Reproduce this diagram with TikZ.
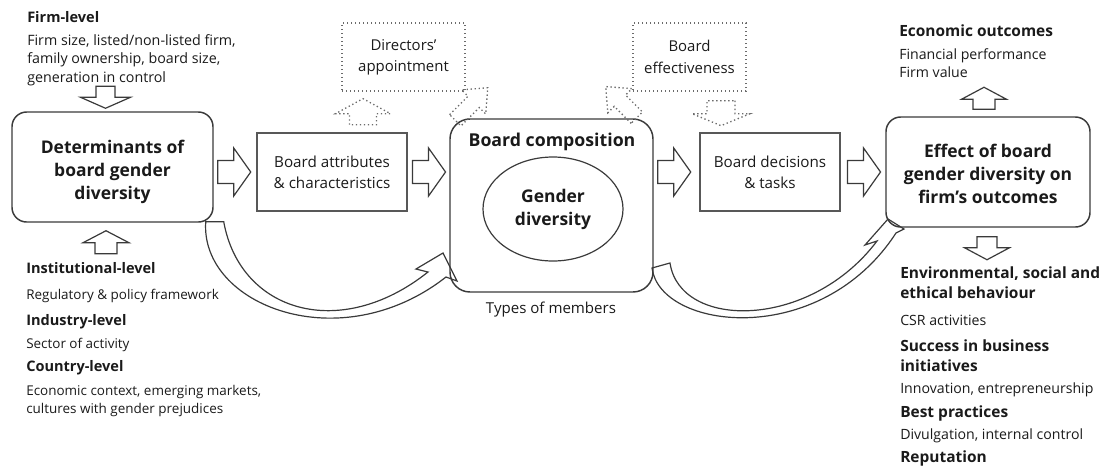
\documentclass[tikz,border=0pt]{standalone}
\usepackage{fontspec}
\setmainfont{Open Sans}
\usetikzlibrary{calc,shapes.geometric}
\definecolor{txt}{HTML}{1A1A1A}
\definecolor{ln}{HTML}{3A3A3A}
\tikzset{
  every node/.style={inner sep=0pt, text=txt},
  body/.style={font=\fontsize{10.1}{12}\selectfont, anchor=base west},
  tbody/.style={font=\fontsize{10.7}{12}\selectfont, anchor=base west},
  hd/.style={font=\fontsize{10.9}{12}\selectfont\bfseries, anchor=base west},
  rbody/.style={font=\fontsize{10.6}{12}\selectfont, anchor=base west},
  rhd/.style={font=\fontsize{11.6}{12}\selectfont\bfseries, anchor=base west},
  rbox/.style={draw=ln, line width=1.1pt, rounded corners=11pt, align=center},
  sbox/.style={draw=ln!85, line width=0.8pt, align=center, font=\fontsize{11.4}{15.5}\selectfont},
  dbox/.style={draw=ln!75, dotted, line width=1pt, align=center, font=\fontsize{11.2}{16}\selectfont},
  btitle/.style={font=\fontsize{13.1}{17.3}\selectfont\bfseries},
  arrowline/.style={draw=ln, line width=0.9pt, line join=miter},
  dotline/.style={draw=ln!75, dotted, line width=1pt},
  pics/blk/.style n args={4}{code={\path[arrowline] (0,-#2) -- (#3,-#2) -- (#3,-#4) -- (#1,0) -- (#3,#4) -- (#3,#2) -- (0,#2) -- cycle;}},
  pics/dblk/.style n args={4}{code={\path[dotline] (0,-#2) -- (#3,-#2) -- (#3,-#4) -- (#1,0) -- (#3,#4) -- (#3,#2) -- (0,#2) -- cycle;}}
}
\begin{document}
\begin{tikzpicture}[x=0.75pt,y=-0.75pt]
\useasboundingbox (0,0) rectangle (1104,469);

% main boxes
\node[rbox, minimum width={201*0.75pt}, minimum height={110*0.75pt}] (det) at (112.5,167) {};
\node[btitle, align=center] (dett) at (112.5,171.5) {Determinants of\\board gender\\diversity};
\node[sbox, minimum width={150*0.75pt}, minimum height={78*0.75pt}] (attr) at (332,172) {Board attributes\\\& characteristics};
\node[rbox, rounded corners=15pt, minimum width={203*0.75pt}, minimum height={173*0.75pt}] (comp) at (551.5,205.5) {};
\node[font=\fontsize{13.3}{14}\selectfont\bfseries] (compt) at (552,142) {Board composition};
\node[ellipse, draw=ln, line width=0.9pt, minimum width={140*0.75pt}, minimum height={104*0.75pt}, align=center, btitle] (gd) at (553,209) {Gender\\diversity};
\node[font=\fontsize{11.3}{12}\selectfont] (types) at (551,310) {Types of members};
\node[sbox, minimum width={140*0.75pt}, minimum height={78*0.75pt}] (dec) at (770,172) {Board decisions\\\& tasks};
\node[rbox, minimum width={204*0.75pt}, minimum height={110*0.75pt}] (eff) at (988,172) {};
\node[btitle, align=center] (efft) at (988,174) {Effect of board\\gender diversity on\\firm’s outcomes};

% dotted boxes
\node[dbox, minimum width={123*0.75pt}, minimum height={68*0.75pt}] (dir) at (403.5,57) {Directors’\\appointment};
\node[dbox, minimum width={113*0.75pt}, minimum height={68*0.75pt}] (effv) at (689.5,57) {Board\\effectiveness};

% horizontal block arrows
\pic at ($(det.east |- attr.west)+(4,0)$) {blk={33}{11.5}{16}{24}};
\pic at ($(attr.east)+(5,0)$) {blk={33}{11.5}{16}{24}};
\pic at ($(comp.east |- dec.west)+(4,0)$) {blk={33}{11.5}{16}{24}};
\pic at ($(dec.east)+(7,0)$) {blk={33}{11.5}{16}{24}};

% vertical block arrows
\pic[rotate=-90] at ($(det.north)+(-7,-25)$) {blk={22}{9.5}{11}{25}};
\pic[rotate=90] at ($(det.south)+(-6.5,31)$) {blk={23}{11}{11}{23}};
\pic[rotate=90] at ($(eff.north)+(-4,-7)$) {blk={22}{11}{10}{22.5}};
\pic[rotate=-90] at ($(eff.south)+(-1,9)$) {blk={23}{10}{11}{22.5}};

% dotted block arrows
\pic[rotate=90] at ($(dir.south)+(-40.5,33)$) {dblk={26}{13.5}{11}{27.5}};
\pic[rotate=-90] at ($(effv.south)+(31.5,9)$) {dblk={25}{14}{13}{29}};
\pic[rotate=45] at ($(comp.north west)+(6,2)$) {dblk={46}{8}{26}{17}};
\pic[rotate=135] at ($(effv.south west)+(4.5,26)$) {dblk={44}{8}{24}{17}};

% curved block arrows
\coordinate (la) at (det.south east);
\path[arrowline] ($(la)+(-8,-1)$) .. controls (200,305) and (340,360) .. (446,277)
  -- (457,281) -- (443,253) -- (416,269) -- (428,272)
  .. controls (340,342) and (240,312) .. ($(la)+(10,-1)$) -- cycle;
\coordinate (ra) at (comp.east);
\path[arrowline] (652,268) .. controls (660,330) and (820,350) .. (896,233)
  -- (904,229) -- (888,219) -- (865,245) -- (877,241)
  .. controls (810,330) and (680,330) .. (670,263) -- cycle;

% left texts
\node[hd] (fl) at (27,22.5) {Firm-level};
\node[tbody] (fl1) at (27,45) {Firm size, listed/non-listed firm,};
\node[tbody] (fl2) at (27,63.5) {family ownership, board size,};
\node[tbody] (fl3) at (27,82) {generation in control};
\node[hd] (il) at (26,273.5) {Institutional-level};
\node[body] (il1) at (26,299) {Regulatory \& policy framework};
\node[hd] (ind) at (26,325.5) {Industry-level};
\node[body] (ind1) at (26,348) {Sector of activity};
\node[hd] (cl) at (26,371.5) {Country-level};
\node[body] (cl1) at (26,395) {Economic context, emerging markets,};
\node[body] (cl2) at (26,413) {cultures with gender prejudices};

% right texts
\node[rhd] (eo) at (899,36.5) {Economic outcomes};
\node[rbody] (eo1) at (899,59) {Financial performance};
\node[rbody] (eo2) at (899,77) {Firm value};
\node[rhd] (en) at (900,278.5) {Environmental, social and};
\node[rhd] (en2) at (900,298.5) {ethical behaviour};
\node[rbody] (en3) at (900,325) {CSR activities};
\node[rhd] (sb) at (900,351.5) {Success in business};
\node[rhd] (sb2) at (900,371.5) {initiatives};
\node[rbody] (sb3) at (900,393) {Innovation, entrepreneurship};
\node[rhd] (bp) at (900,417.5) {Best practices};
\node[rbody] (bp1) at (900,439) {Divulgation, internal control};
\node[rhd] (rep) at (900,462.5) {Reputation};
\end{tikzpicture}
\end{document}
